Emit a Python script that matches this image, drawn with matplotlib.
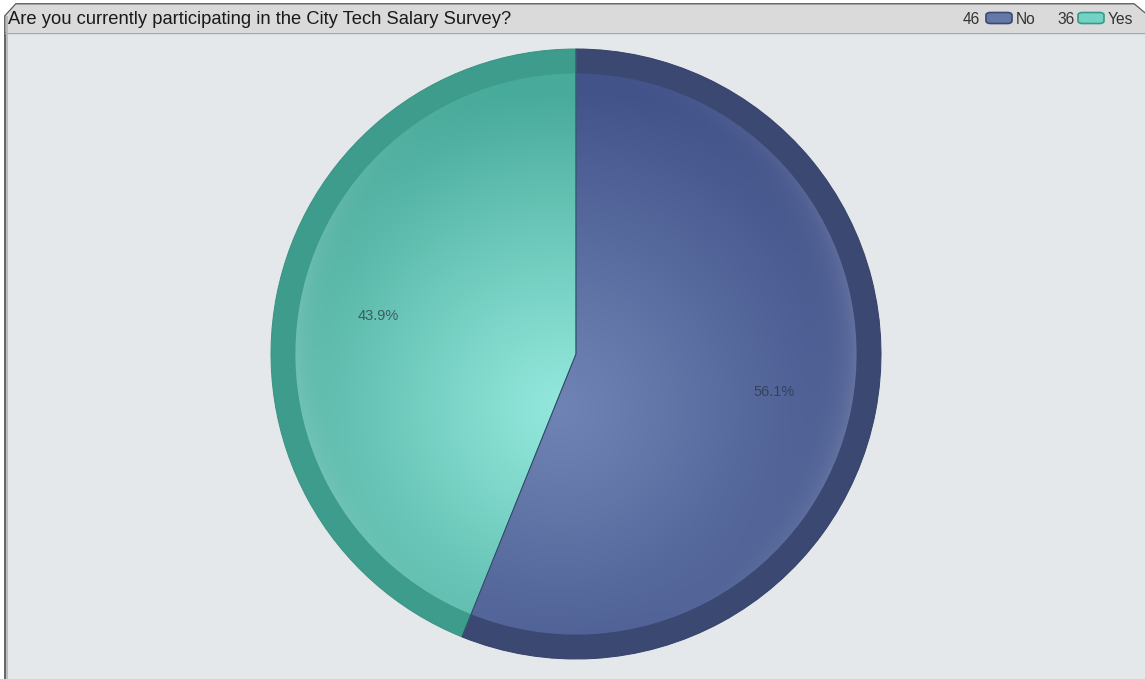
import numpy as np
import matplotlib
matplotlib.use("Agg")
import matplotlib.pyplot as plt
from matplotlib.patches import Polygon, FancyBboxPatch
from matplotlib.colors import to_rgb

plt.rcParams['font.family'] = ['Liberation Sans', 'DejaVu Sans']

title = "Are you currently participating in the City Tech Salary Survey?"
labels = ["No", "Yes"]
counts = [46, 36]
centre_cols = ["#6f84b4", "#93e8dc"]   # light middle of each slice
edge_cols = ["#42538a", "#47aa9a"]     # darker towards the outside
rim_cols = ["#3a4872", "#3d9c8b"]      # outer ring
line_cols = ["#34406a", "#3a9282"]     # slice outlines
swatch_fill = ["#6678a8", "#72d3c4"]
swatch_edge = ["#3a4872", "#3a9888"]

W, H = 1145, 679
fig = plt.figure(figsize=(W / 100, H / 100), dpi=100)
fig.patch.set_facecolor("white")


def fpx(x, y):
    return (x / W, 1 - y / H)


# panel body and header strip
body = Polygon([fpx(5, 16), fpx(16, 4), fpx(1134, 4), fpx(1146, 14),
                fpx(1146, 690), fpx(5, 690)], closed=True,
               transform=fig.transFigure, facecolor="#e4e8eb",
               edgecolor="#5a5a5a", lw=1.3, zorder=-3)
fig.patches.append(body)
header = Polygon([fpx(5.5, 16), fpx(16, 4.5), fpx(1134, 4.5), fpx(1145.5, 14),
                  fpx(1145.5, 32), fpx(5.5, 32)], closed=True,
                 transform=fig.transFigure, facecolor="#dadada",
                 edgecolor="none", zorder=-2)
fig.patches.append(header)
fig.lines.append(plt.Line2D([5 / W, 1], [1 - 32.5 / H] * 2,
                            transform=fig.transFigure, color="#a8a8a8", lw=1, zorder=-1))
fig.lines.append(plt.Line2D([6.5 / W] * 2, [0, 1 - 17 / H],
                            transform=fig.transFigure, color="#b5b5b5", lw=1.2, zorder=-1))

fig.text(8 / W, 1 - 19 / H, title, fontsize=13.2, color="#1a1a1a",
         va="center", ha="left", zorder=3)

# legend: count, swatch, label
count_x = [963, 1057]
swatch_x = [986, 1078]
label_x = [1016, 1108]
for i in range(len(labels)):
    fig.text(count_x[i] / W, 1 - 19 / H, str(counts[i]), fontsize=11.2,
             color="#333333", va="center", ha="left", zorder=3)
    sw = FancyBboxPatch(fpx(swatch_x[i], 23.5), 26 / W, 11 / H,
                        boxstyle="round,pad=0,rounding_size=0.004",
                        transform=fig.transFigure, facecolor=swatch_fill[i],
                        edgecolor=swatch_edge[i], lw=1.2, zorder=3)
    fig.patches.append(sw)
    fig.text(label_x[i] / W, 1 - 19 / H, labels[i], fontsize=11.2,
             color="#333333", va="center", ha="left", zorder=3)

# pie
cx, cy, R = 576, 354, 305
ax = fig.add_axes([(cx - R) / W, (H - cy - R) / H, 2 * R / W, 2 * R / H])
ax.set_facecolor("none")

rim, _ = ax.pie(counts, colors=rim_cols, startangle=90, counterclock=False,
                radius=1.0, wedgeprops=dict(lw=0))
inner, _, autotexts = ax.pie(counts, colors=["none", "none"], startangle=90,
                             counterclock=False, radius=0.92, autopct="%.1f%%",
                             pctdistance=0.66 / 0.92, wedgeprops=dict(lw=0),
                             textprops=dict(fontsize=10.5, color="#2a3340", alpha=0.7))
# thin outline and slice divider on top of the shading (blue one drawn last)
outline, _ = ax.pie(counts, colors=["none", "none"], startangle=90, counterclock=False,
                    radius=1.0, wedgeprops=dict(lw=0.7))
for i, w in enumerate(outline):
    w.set_edgecolor(line_cols[i])
    w.set_zorder(3.5 - 0.1 * i)

n = 500
xs = np.linspace(-1, 1, n)
X, Y = np.meshgrid(xs, xs[::-1])
r = np.hypot(X, Y)
d = np.hypot(X + 0.05, Y + 0.18)
t = np.clip(d / 1.05, 0, 1) ** 1.1
# brighter band just inside the rim, strongest on the left and right
band = np.exp(-np.clip(0.92 - r, 0, None) / 0.06) * np.abs(X / np.maximum(r, 1e-6)) ** 2
for i, w in enumerate(inner):
    c0 = np.array(to_rgb(centre_cols[i]))
    c1 = np.array(to_rgb(edge_cols[i]))
    img = c0 * (1 - t[..., None]) + c1 * t[..., None]
    img = img + 0.16 * band[..., None] * (1 - img)
    im = ax.imshow(np.clip(img, 0, 1), extent=[-1, 1, -1, 1], origin="upper",
                   interpolation="bilinear", zorder=1)
    im.set_clip_path(w)
    w.set_zorder(2)
for tx in autotexts:
    tx.set_zorder(4)

ax.set_xlim(-1, 1)
ax.set_ylim(-1, 1)
ax.set_aspect("equal")
ax.axis("off")

fig.savefig("out.png", dpi=100, facecolor=fig.get_facecolor())
